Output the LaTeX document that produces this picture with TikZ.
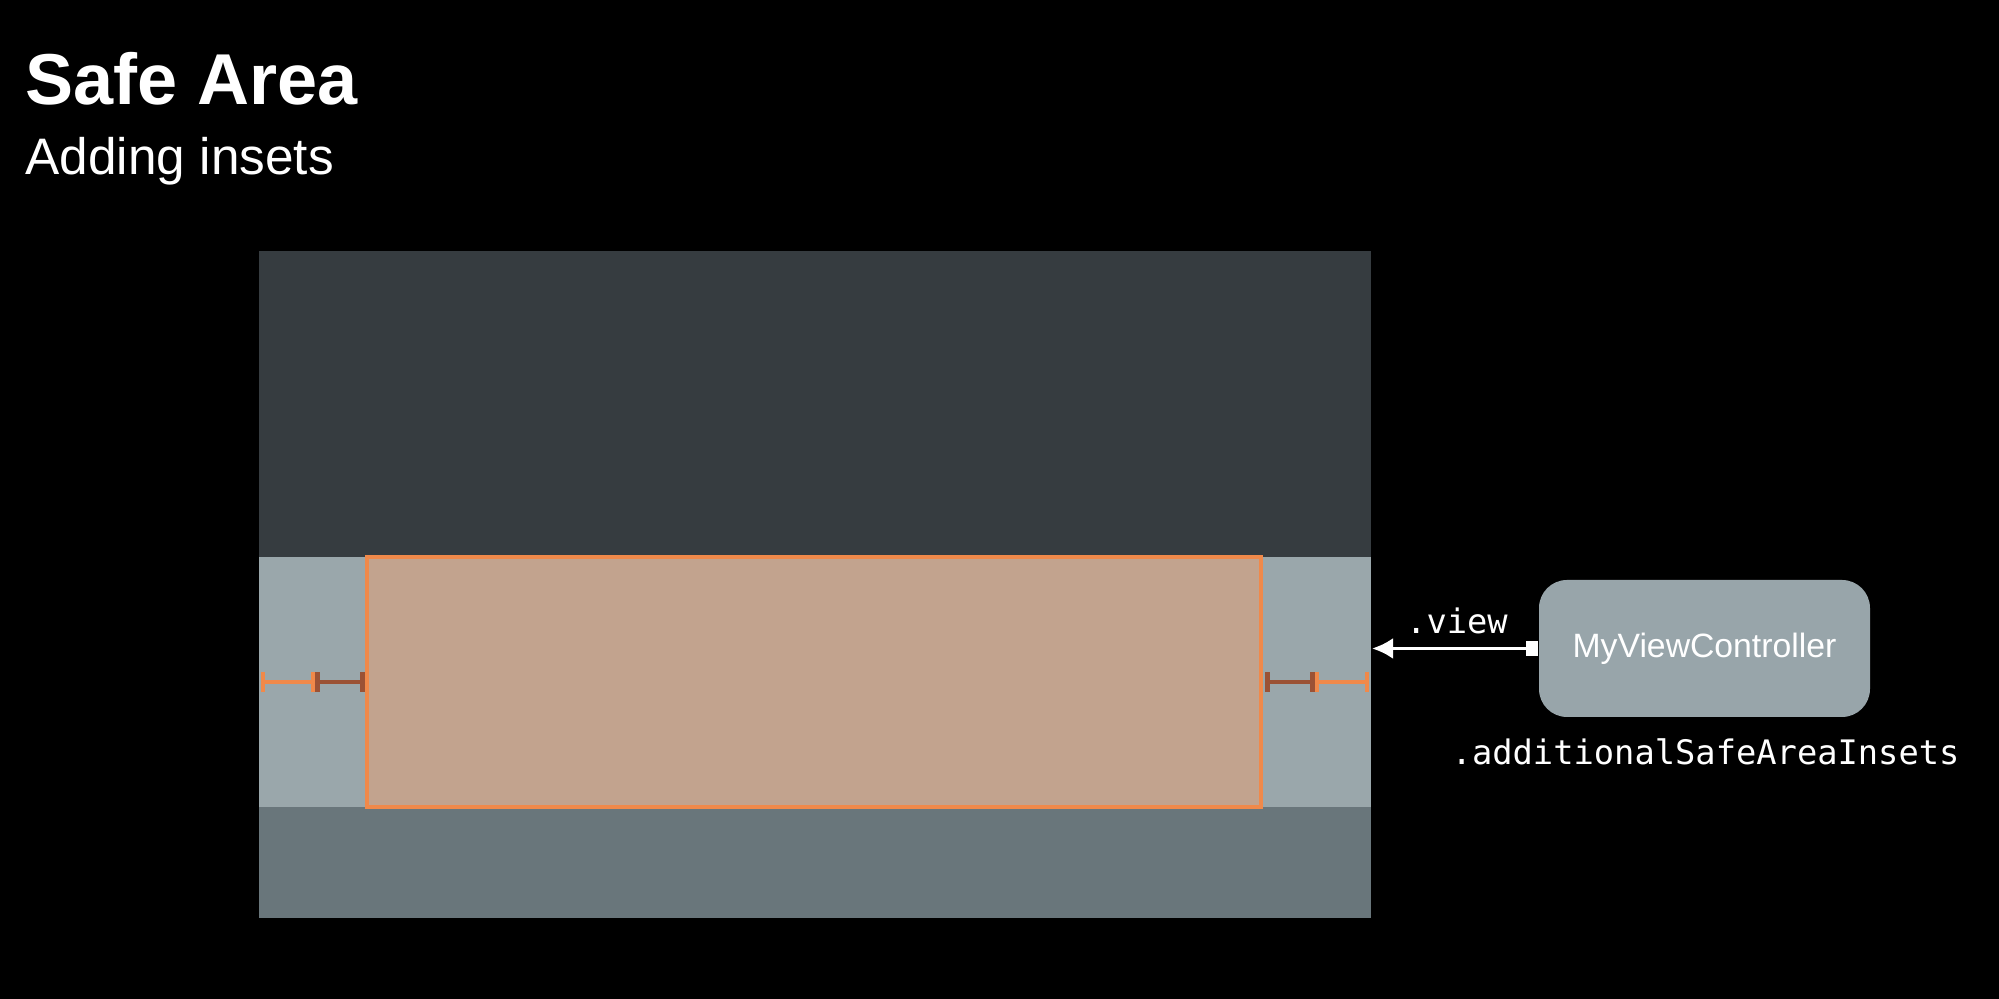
\documentclass[tikz,border=0pt]{standalone}
\usepackage{fontspec}
\setmainfont{Liberation Sans}
\setmonofont{DejaVu Sans Mono}
\usetikzlibrary{arrows.meta, positioning}
\definecolor{topgray}{HTML}{363C40}
\definecolor{bandgray}{HTML}{9AA7AB}
\definecolor{botgray}{HTML}{69767B}
\definecolor{safefill}{HTML}{C2A38E}
\definecolor{safeline}{HTML}{F0894A}
\definecolor{insetdark}{HTML}{9B5235}
\definecolor{vcgray}{HTML}{98A5AA}
\tikzset{%
	inset outer/.style={
		draw=safeline,
		line width=1pt,
		{Bar[width=5.5pt,line width=1.2pt]}-{Bar[width=5.5pt,line width=1.2pt]}
	},
	inset inner/.style={
		draw=insetdark,
		line width=1.1pt,
		{Bar[width=5.5pt,line width=1.5pt]}-{Bar[width=5.5pt,line width=1.5pt]}
	},
	controller/.style={
		rounded corners=0.28cm,
		fill=vcgray,
		minimum width=3.31cm,
		minimum height=1.37cm,
		text=white,
		font=\fontsize{9.6}{11}\selectfont
	},
	codelabel/.style={
		text=white,
		inner sep=0pt,
		font=\ttfamily\fontsize{9.6}{11}\selectfont
	},
}
\begin{document}
\begin{tikzpicture}
			% Background
			\fill[black] (0,0) rectangle (19.99,9.99);
			\useasboundingbox (0,0) rectangle (19.99,9.99);
			
			% Title
			\node[anchor=base west, inner sep=0pt, text=white, font=\bfseries\fontsize{20.5}{24}\selectfont] (title) at (0.25,8.94) {Safe Area};
			\node[anchor=base west, inner sep=0pt, text=white, font=\fontsize{14.6}{18}\selectfont] (subtitle) at (0.25,8.24) {Adding insets};
			
			% Draw the view
			\fill[topgray] (2.59,4.42) rectangle (13.71,7.48);
			\fill[bandgray] (2.59,1.92) rectangle (13.71,4.42);
			\fill[botgray] (2.59,0.81) rectangle (13.71,1.92);
			
			% Draw the safe area
			\draw[safeline, fill=safefill, line width=1.1pt] (3.67,1.92) rectangle (12.61,4.42);
			
			% Draw the insets
			\coordinate (lout) at (2.61,3.17);
			\coordinate (lmid) at (3.15,3.17);
			\coordinate (lin) at (3.65,3.17);
			\coordinate (rin) at (12.65,3.17);
			\coordinate (rmid) at (13.15,3.17);
			\coordinate (rout) at (13.69,3.17);
			\draw[inset outer] (lout) -- (lmid);
			\draw[inset inner] (lmid) -- (lin);
			\draw[inset inner] (rin) -- (rmid);
			\draw[inset outer] (rmid) -- (rout);
			
			% Draw the view controller
			\node[controller] (vc) at (17.045,3.505) {MyViewController};
			\coordinate (viewedge) at (13.72,3.505);
			\draw[white, line width=1pt, {Square[length=3.6pt,width=4pt]}-{Latex[length=6pt,width=6pt]}] (vc.west) -- (viewedge);
			\node[codelabel] (viewlbl) at (14.57,3.78) {.view};
			\node[codelabel, anchor=base west] (insetlbl) at (14.51,2.34) {.additionalSafeAreaInsets};

		\end{tikzpicture}
\end{document}
